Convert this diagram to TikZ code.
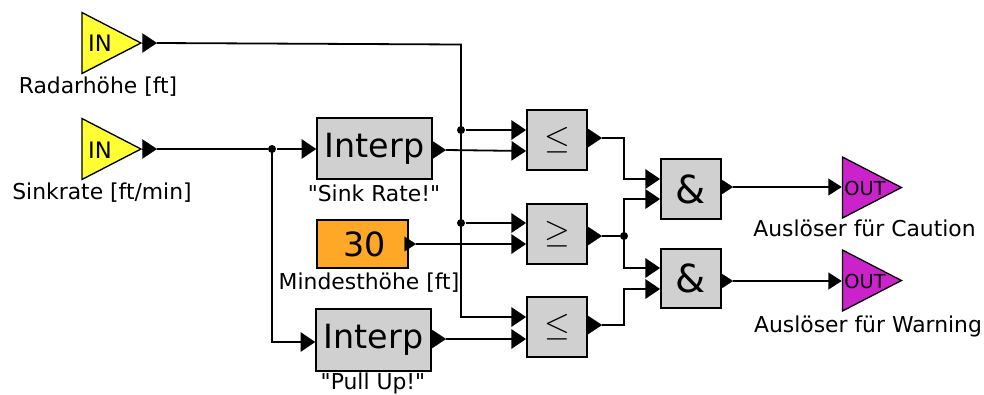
\documentclass[tikz,border=0pt]{standalone}
\usepackage{fontspec}
\newfontfamily\plainface{DejaVu Sans}
\setmainfont{DejaVu Sans}
\usetikzlibrary{shapes.geometric,arrows.meta}

\definecolor{inyellow}{RGB}{255,255,51}
\definecolor{outmagenta}{RGB}{204,34,204}
\definecolor{blockgray}{RGB}{208,208,208}
\definecolor{constorange}{RGB}{255,167,38}

\tikzset{every picture/.style={line width=0.75pt}}
\tikzset{
  wire/.style={line width=1.35pt},
  feed/.style={wire,-{Triangle[length=11pt,width=14.5pt]}},
  bigport/.style={-{Triangle[length=11pt,width=14.5pt]},line width=0.1pt},
  smallport/.style={-{Triangle[length=8.5pt,width=11pt]},line width=0.1pt},
  feedout/.style={wire,-{Triangle[length=10pt,width=12.5pt]}},
  block/.style={draw,line width=1.35pt,fill=blockgray,inner sep=0pt},
  interp/.style={block,minimum width=86pt,minimum height=45.75pt,font=\fontsize{25}{25}\selectfont},
  logic/.style={block,minimum width=45pt,minimum height=45pt,font=\fontsize{29}{29}\selectfont},
  compare/.style={logic,font=\fontsize{32}{32}\selectfont},
  tag/.style={inner sep=0pt,anchor=base,font=\plainface\fontsize{16.4}{16.4}\selectfont},
  flagin/.style={draw,line width=1pt,fill=inyellow,isosceles triangle,isosceles triangle stretches,minimum width=45.75pt,minimum height=44.25pt,inner sep=0pt},
  flagout/.style={flagin,fill=outmagenta},
  flagtext/.style={inner sep=0pt,font=\fontsize{14.5}{14.5}\selectfont},
  joint/.style={circle,fill=black,inner sep=0pt,minimum size=6pt}
}

\begin{document}
\begin{tikzpicture}[x=0.75pt,y=0.75pt,yscale=-1,xscale=1]
\useasboundingbox (0,0) rectangle (984,394);

%Inputs
\node [flagin] (radar) at (100.5,43) {};
\node [flagin] (sink) at (100.5,149) {};
\node [flagtext,font=\fontsize{17}{17}\selectfont] (radarin) at (100,43) {IN};
\node [flagtext,font=\fontsize{17}{17}\selectfont] (sinkin) at (100,150) {IN};
\node [tag] (radartag) at (98,93) {Radarhöhe [ft]};
\node [tag] (sinktag) at (102,199) {Sinkrate [ft/min]};

%Blocks
\node [interp] (sinkrate) at (374.5,148.5) {Interp};
\node [interp,minimum height=46.5pt] (pullup) at (373.5,340) {Interp};
\node [block,fill=constorange,minimum width=68.25pt,minimum height=36pt,font=\fontsize{25}{25}\selectfont] (const) at (362.5,244) {\hspace*{3.75pt}30};
\node [compare] (lea) at (557,140) {$\le$};
\node [compare] (ge) at (557,234) {$\ge$};
\node [compare] (leb) at (557,327) {$\le$};
\node [logic] (anda) at (691,189) {\&};
\node [logic,minimum height=44.25pt] (andb) at (691,278.5) {\&};

%Outputs
\node [flagout] (caution) at (861,187.5) {};
\node [flagout] (warning) at (861,280.5) {};
\node [flagtext] (cautionout) at (865,188) {OUT};
\node [flagtext] (warningout) at (865,281) {OUT};
\node [tag] (cautiontag) at (864.5,236) {Auslöser für Caution};
\node [tag] (warningtag) at (868,332) {Auslöser für Warning};
\node [tag] (sinkratetag) at (374,201) {"Sink Rate!"};
\node [tag] (consttag) at (369,289) {Mindesthöhe [ft]};
\node [tag] (pulluptag) at (373,389) {"Pull Up!"};

%Ports
\coordinate (radarp) at (157,43);
\coordinate (sinkp) at (157,149);
\coordinate (sinkratep) at (446,150);
\coordinate (pullupp) at (446,339);
\coordinate (constp) at (416,244);
\coordinate (leap) at (602,138);
\coordinate (gep) at (602,236);
\coordinate (lebp) at (602,325);
\coordinate (andap) at (733,187);
\coordinate (andbp) at (733,281);
\draw [bigport] (143,43) -- (radarp);
\draw [bigport] (143,149) -- (sinkp);
\draw [bigport] (sinkrate.east |- sinkratep) -- (sinkratep);
\draw [bigport] (pullup.east |- pullupp) -- (pullupp);
\draw [smallport] (const.east |- constp) -- (constp);
\draw [bigport] (lea.east |- leap) -- (leap);
\draw [bigport] (ge.east |- gep) -- (gep);
\draw [bigport] (leb.east |- lebp) -- (lebp);
\draw [smallport] (anda.east |- andap) -- (andap);
\draw [smallport] (andb.east |- andbp) -- (andbp);

%Junctions
\node [joint] (radarja) at (461,130) {};
\node [joint] (radarjb) at (461,223) {};
\node [joint] (sinkj) at (272,149) {};
\node [joint] (gej) at (624,236) {};

%Wires
\coordinate (radarbend) at (461,44.5);
\draw [wire] (radarp) -- (radarbend) -- (radarja.center) -- (radarjb.center);
\draw [feed] (radarjb.center) |- (leb.west |- 0,317);
\draw [feed] (radarja) -- (lea.west |- radarja);
\draw [feed] (radarjb) -- (ge.west |- radarjb);
\draw [feed] (sinkp) -- (sinkj) -- (sinkrate.west |- sinkj);
\draw [feed] (sinkj.center) |- (pullup.west |- 0,342);
\draw [feed] (sinkratep) -- (lea.west |- 0,151);
\draw [feed] (constp) -- (ge.west |- constp);
\draw [feed] (pullupp) -- (leb.west |- pullupp);
\draw [feed] (leap) -| (624,179) -- (anda.west |- 0,179);
\draw [wire] (gep) -- (gej);
\draw [feed] (gej.center) |- (anda.west |- 0,199);
\draw [feed] (gej.center) |- (andb.west |- 0,268);
\draw [feed] (lebp) -| (624,289) -- (andb.west |- 0,289);
\draw [feedout] (andap) -- (caution.lower side |- andap);
\draw [feedout] (andbp) -- (warning.lower side |- andbp);

\end{tikzpicture}
\end{document}
